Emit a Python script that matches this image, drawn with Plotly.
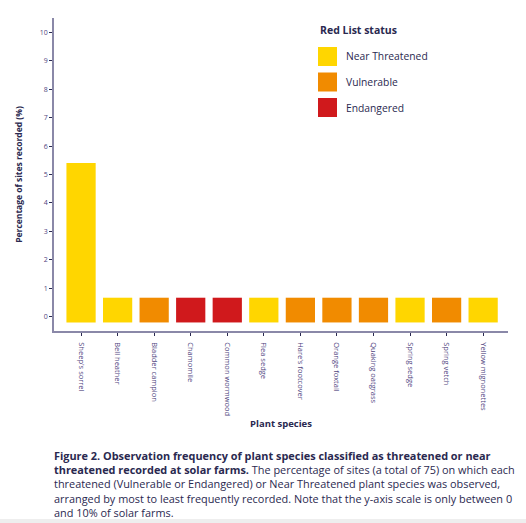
import plotly.graph_objects as go

species = ["Sheep's sorrel", "Bell heather", "Bladder campion", "Chamomile",
           "Common wormwood", "Flea sedge", "Hare's footcover", "Orange foxtail",
           "Quaking oatgrass", "Spring sedge", "Spring vetch", "Yellow mignonettes"]
percent = [5.4, 0.67, 0.67, 0.67, 0.67, 0.67, 0.67, 0.67, 0.67, 0.67, 0.67, 0.67]
status = ["Near Threatened", "Near Threatened", "Vulnerable", "Endangered",
          "Endangered", "Near Threatened", "Vulnerable", "Vulnerable",
          "Vulnerable", "Near Threatened", "Vulnerable", "Near Threatened"]
status_order = ["Near Threatened", "Vulnerable", "Endangered"]
status_colors = {"Near Threatened": "#FFD600", "Vulnerable": "#F18B00", "Endangered": "#D0191C"}
y_ticks = list(range(0, 11))
BAR_BASE = -0.2

W, H = 526, 523
L, R, T, B = 54, 18, 18, 192
PW, PH = W - L - R, H - T - B

def px(x):
    return (x - L) / PW

def py(y):
    return (H - B - y) / PH

NAVY = "#2a2950"
FONT = "Open Sans"

fig = go.Figure()
fig.add_trace(go.Bar(
    x=species,
    y=[v - BAR_BASE for v in percent],
    base=BAR_BASE,
    marker_color=[status_colors[s] for s in status],
    marker_line_width=0,
    width=0.8,
    showlegend=False,
    hoverinfo="skip",
))

shapes = []
annotations = []

# Legend
annotations.append(dict(x=px(318), y=py(30), xref="paper", yref="paper",
                        text="<b>Red List status</b>", showarrow=False,
                        xanchor="left", yanchor="middle",
                        font=dict(family=FONT, size=10.5, color=NAVY)))
for i, s in enumerate(status_order):
    top = 47 + i * 25.5
    shapes.append(dict(type="rect", xref="paper", yref="paper",
                       x0=px(318), x1=px(337), y0=py(top + 19), y1=py(top),
                       fillcolor=status_colors[s], line_width=0))
    annotations.append(dict(x=px(344), y=py(top + 9.5), xref="paper", yref="paper",
                            text=s, showarrow=False, xanchor="left", yanchor="middle",
                            font=dict(family=FONT, size=10.3, color=NAVY)))

# Caption
caption = ("<b>Figure 2. Observation frequency of plant species classified as threatened or near<br>"
           "threatened recorded at solar farms.</b> The percentage of sites (a total of 75) on which each<br>"
           "threatened (Vulnerable or Endangered) or Near Threatened plant species was observed,<br>"
           "arranged by most to least frequently recorded. Note that the y-axis scale is only between 0<br>"
           "and 10% of solar farms.")
annotations.append(dict(x=px(52), y=py(446), xref="paper", yref="paper",
                        text=caption, showarrow=False, xanchor="left", yanchor="top",
                        align="left",
                        font=dict(family=FONT, size=10.9, color=NAVY)))

# grey strip at bottom
shapes.append(dict(type="rect", xref="paper", yref="paper",
                   x0=px(0), x1=px(W), y0=py(H), y1=py(519),
                   fillcolor="#eeeeee", line_width=0, layer="below"))

fig.update_layout(
    width=W, height=H,
    margin=dict(l=L, r=R, t=T, b=B),
    paper_bgcolor="white", plot_bgcolor="white",
    font=dict(family=FONT, color=NAVY),
    bargap=0.2,
    shapes=shapes,
    annotations=annotations,
)
fig.update_xaxes(
    range=[-0.74, 11.68],
    showline=True, linecolor="#8a88a8", linewidth=1.5,
    ticks="outside", ticklen=3, tickcolor=NAVY,
    tickangle=90, ticklabelstandoff=5,
    tickfont=dict(family=FONT, size=7.5, color="#4f4580"),
    showgrid=False, zeroline=False,
    title=dict(text="<b>Plant species</b>", font=dict(family=FONT, size=9.5, color=NAVY),
               standoff=5),
)
fig.update_yaxes(
    range=[-0.5, 10.5],
    tickvals=y_ticks,
    showline=True, linecolor="#8a88a8", linewidth=1.5,
    ticks="outside", ticklen=3, tickcolor=NAVY,
    tickfont=dict(family=FONT, size=7, color="#4f4580"),
    showgrid=False, zeroline=False,
    title=dict(text="<b>Percentage of sites recorded (%)</b>",
               font=dict(family=FONT, size=8.5, color=NAVY), standoff=16),
)

fig.write_html("out.html")
